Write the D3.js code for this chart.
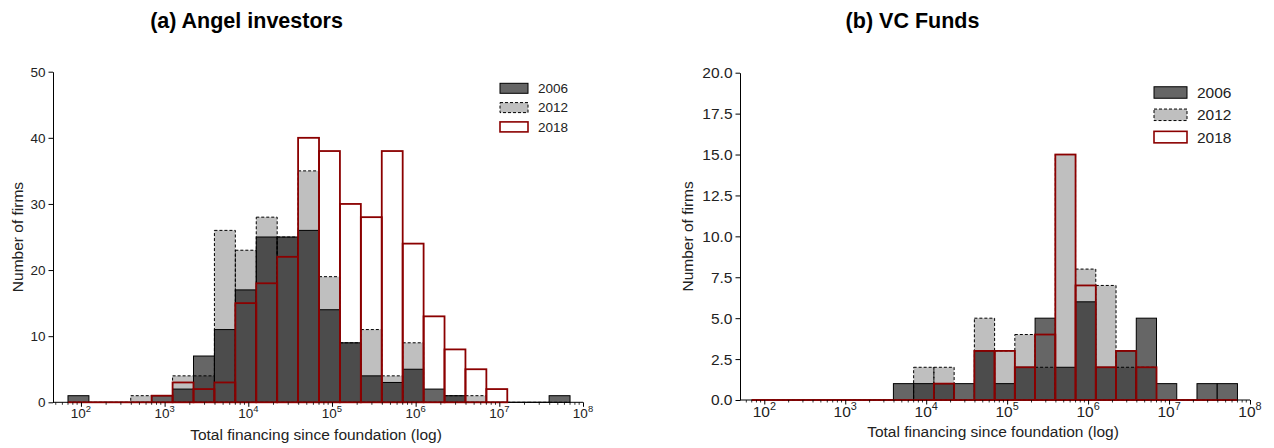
<!DOCTYPE html>
<html>
<head>
<meta charset="utf-8">
<script src="https://cdn.jsdelivr.net/npm/d3@7"></script>
<style>
  body { margin: 0; background: #fff; }
  svg { display: block; font-family: "Liberation Sans", Arial, sans-serif; }
</style>
</head>
<body>
<svg id="chart" width="1274" height="448"></svg>
<script>
// ---- Data ----
const binEdges = [70, 124.5, 221.4, 393.6, 700, 1244.8, 2213.6, 3936.5, 7000, 12448, 22136, 39365,
  70000, 124479, 221359, 393645, 700000, 1244795, 2213594, 3936450, 7000000, 12447947, 22135943, 39364497, 70000000];
const seriesNames = ["2006", "2012", "2018"];

const angel2006 = [1, 0, 0, 0, 1, 2, 7, 11, 17, 25, 25, 26, 14, 9, 4, 3, 5, 2, 1, 0, 0, 0, 0, 1];
const angel2012 = [0, 0, 0, 1, 0, 4, 4, 26, 23, 28, 25, 35, 19, 9, 11, 4, 9, 0, 1, 1, 0, 0, 0, 0];
const angel2018 = [0, 0, 0, 0, 1, 3, 2, 3, 15, 18, 22, 40, 38, 30, 28, 38, 24, 13, 8, 5, 2, null, null, null];

const vc2006 = [0, 0, 0, 0, 0, 0, 0, 1, 1, 1, 1, 3, 1, 2, 5, 2, 6, 2, 3, 5, 1, 0, 1, 1];
const vc2012 = [0, 0, 0, 0, 0, 0, 0, 0, 2, 2, 0, 5, 3, 4, 2, 15, 8, 7, 2, 2, 0, 0, 0, 0];
const vc2018 = [0, 0, 0, 0, 0, 0, 0, 0, 0, 1, 0, 3, 3, 2, 4, 15, 7, 2, 3, 2, 0, 0, 0, 0];

const angelYTicks = [0, 10, 20, 30, 40, 50];
const vcYTicks = [0, 2.5, 5, 7.5, 10, 12.5, 15, 17.5, 20];
const xTickValues = [1e2, 1e3, 1e4, 1e5, 1e6, 1e7, 1e8];
const xTickExponents = ["2", "3", "4", "5", "6", "7", "8"];

const titles = ["(a) Angel investors", "(b) VC Funds"];
const xLabel = "Total financing since foundation (log)";
const yLabel = "Number of firms";

// ---- Styles ----
const styles = {
  "2006": { fill: "#666666", stroke: "#000", width: 1, dash: null },
  "2012": { fill: "rgba(0,0,0,0.25)", stroke: "#000", width: 1, dash: "3,2" },
  "2018": { fill: "none", stroke: "#8b0000", width: 1.8, dash: null }
};

const svg = d3.select("#chart");

function drawPanel(cfg) {
  const g = svg.append("g");
  const x = d3.scaleLog().domain(cfg.xDomain).range([cfg.left, cfg.right]);
  const y = d3.scaleLinear().domain([0, cfg.yMax]).range([cfg.bottom, cfg.top]);

  // title
  g.append("text").attr("x", cfg.titleX).attr("y", 28)
    .attr("text-anchor", "middle").attr("font-weight", "bold")
    .attr("font-size", 21.5).attr("fill", "#000").text(cfg.title);

  // bottom spine
  g.append("line").attr("x1", cfg.left).attr("x2", cfg.right)
    .attr("y1", cfg.bottom).attr("y2", cfg.bottom)
    .attr("stroke", "#000").attr("stroke-width", 1);

  // bars
  cfg.series.forEach((vals, si) => {
    const st = styles[seriesNames[si]];
    const bins = vals.map((v, i) => ({ v, x0: binEdges[i], x1: binEdges[i + 1] }))
      .filter(d => d.v !== null);
    const sg = g.append("g");
    sg.selectAll("rect").data(bins.filter(d => d.v > 0)).join("rect")
      .attr("x", d => x(d.x0))
      .attr("width", d => x(d.x1) - x(d.x0))
      .attr("y", d => y(d.v))
      .attr("height", d => y(0) - y(d.v))
      .attr("fill", st.fill)
      .attr("stroke", st.stroke)
      .attr("stroke-width", st.width)
      .attr("stroke-dasharray", st.dash);
    sg.selectAll("line").data(bins.filter(d => d.v === 0)).join("line")
      .attr("x1", d => x(d.x0)).attr("x2", d => x(d.x1))
      .attr("y1", y(0)).attr("y2", y(0))
      .attr("stroke", st.stroke)
      .attr("stroke-width", st.width)
      .attr("stroke-dasharray", st.dash);
  });

  // y axis
  const yAxis = d3.axisLeft(y).tickValues(cfg.yTicks).tickFormat(cfg.yFormat)
    .tickSizeOuter(0).tickSizeInner(4.5).tickPadding(3);
  const ya = g.append("g").attr("transform", `translate(${cfg.left},0)`).call(yAxis);
  ya.select(".domain").attr("stroke", "#000");
  ya.selectAll("text").attr("font-size", cfg.tickFont).attr("fill", "#222")
    .attr("font-family", "Liberation Sans, Arial, sans-serif");

  // x axis: minor ticks
  const minor = [];
  for (let k = 1; k <= 7; k++) for (let m = 2; m <= 9; m++) {
    const v = m * Math.pow(10, k);
    if (v >= cfg.xDomain[0] && v <= cfg.xDomain[1]) minor.push(v);
  }
  g.append("g").selectAll("line").data(minor).join("line")
    .attr("x1", d => x(d)).attr("x2", d => x(d))
    .attr("y1", cfg.bottom).attr("y2", cfg.bottom + 2.5)
    .attr("stroke", "#000").attr("stroke-width", 0.8);

  const xAxis = d3.axisBottom(x).tickValues(xTickValues).tickFormat("")
    .tickSizeOuter(0).tickSizeInner(4.5);
  const xa = g.append("g").attr("transform", `translate(0,${cfg.bottom})`).call(xAxis);
  xa.select(".domain").remove();
  xa.selectAll("line").attr("stroke", "#000");

  const lbl = g.append("g").selectAll("text").data(xTickValues).join("text")
    .attr("x", (d) => x(d))
    .attr("y", cfg.xTickBaseline)
    .attr("text-anchor", "middle")
    .attr("font-size", cfg.tickFont)
    .attr("fill", "#222");
  lbl.append("tspan").text("10");
  lbl.append("tspan").attr("dy", -cfg.tickFont * 0.45).attr("font-size", cfg.tickFont * 0.7)
    .text((d, i) => xTickExponents[i]);

  // axis labels
  g.append("text").attr("x", (cfg.left + cfg.right) / 2 - 2).attr("y", cfg.xLabelY)
    .attr("text-anchor", "middle").attr("font-size", 15.5).attr("fill", "#222").text(xLabel);
  g.append("text")
    .attr("transform", `translate(${cfg.yLabelX},${(cfg.top + cfg.bottom) / 2}) rotate(-90)`)
    .attr("text-anchor", "middle").attr("font-size", 15.5).attr("fill", "#222").text(yLabel);

  // legend
  const lg = g.append("g");
  seriesNames.forEach((name, i) => {
    const st = styles[name];
    const cy = cfg.legY + i * cfg.legStep;
    lg.append("rect").attr("x", cfg.legX).attr("y", cy - cfg.legH / 2)
      .attr("width", cfg.legW).attr("height", cfg.legH)
      .attr("fill", name === "2018" ? "#fff" : (name === "2012" ? "#bfbfbf" : "#666666"))
      .attr("stroke", st.stroke).attr("stroke-width", name === "2018" ? 1.6 : 1)
      .attr("stroke-dasharray", st.dash);
    lg.append("text").attr("x", cfg.legX + cfg.legW + 10).attr("y", cy)
      .attr("dy", "0.35em").attr("font-size", cfg.legFont).attr("fill", "#222").text(name);
  });
}

drawPanel({
  title: titles[0], titleX: 246.5,
  xDomain: [Math.pow(10, 1.666), 1e8], left: 53, right: 583, top: 71.7, bottom: 402.3,
  yMax: 50, yTicks: angelYTicks, yFormat: d3.format("d"),
  series: [angel2006, angel2012, angel2018],
  tickFont: 13.5, xTickBaseline: 418, xLabelY: 440, yLabelX: 23,
  legX: 500, legW: 28, legH: 10, legY: 88.3, legStep: 19.3, legFont: 13.5
});

drawPanel({
  title: titles[1], titleX: 912.5,
  xDomain: [Math.pow(10, 1.70), 1e8], left: 740, right: 1250, top: 72.7, bottom: 400,
  yMax: 20, yTicks: vcYTicks, yFormat: d3.format(".1f"),
  series: [vc2006, vc2012, vc2018],
  tickFont: 15.5, xTickBaseline: 417, xLabelY: 437, yLabelX: 693,
  legX: 1154, legW: 33, legH: 11.5, legY: 92.5, legStep: 22.3, legFont: 15.5
});
</script>
</body>
</html>
